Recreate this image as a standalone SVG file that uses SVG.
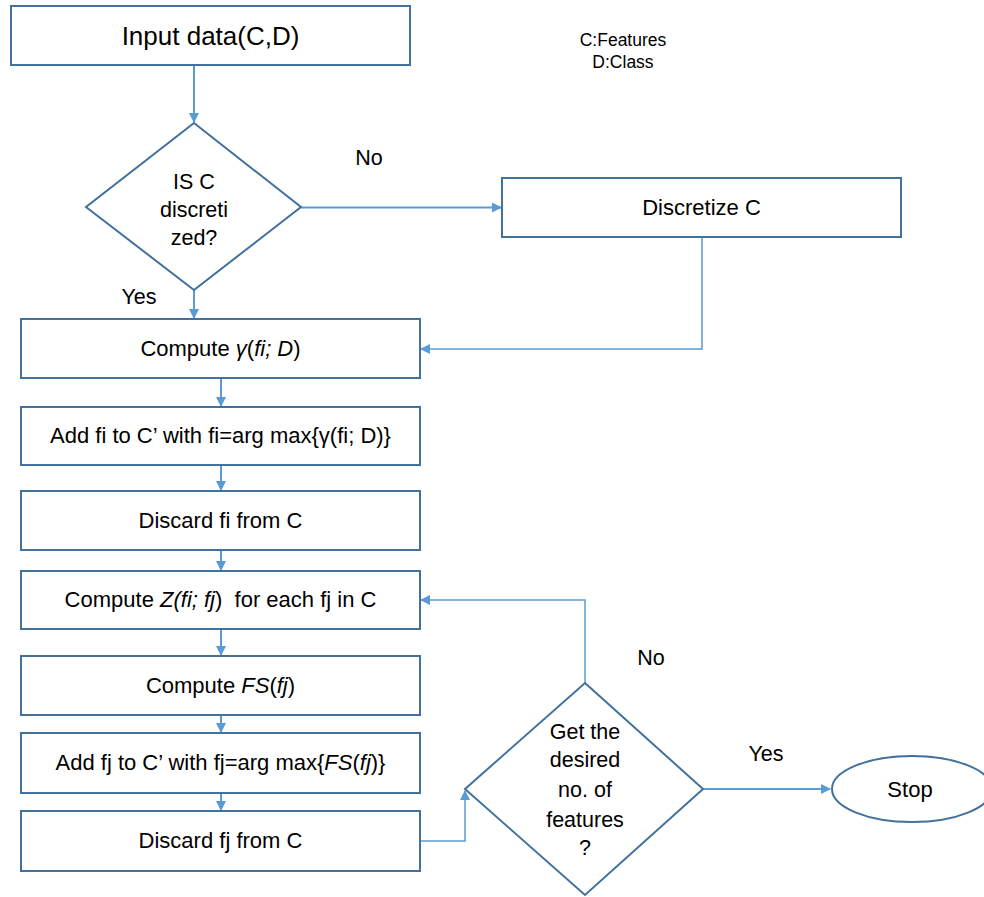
<svg xmlns="http://www.w3.org/2000/svg" width="984" height="897" viewBox="0 0 984 897">
<style>
.box{fill:#fff;stroke:#41719C;stroke-width:2}
.con{fill:none;stroke:#5B9BD5;stroke-width:2}
.thin{fill:none;stroke:#5B9BD5;stroke-width:1.5}
text{font-family:"Liberation Sans",Arial,sans-serif;fill:#000;text-anchor:middle;white-space:pre}
.t{font-size:22px}
.l{font-size:21.5px}
.s{font-size:17.5px}
.i{font-style:italic}
</style>
<defs>
<marker id="ah" markerWidth="10" markerHeight="10" refX="9" refY="5" orient="auto" markerUnits="userSpaceOnUse">
<path d="M0,0 L10,5 L0,10 Z" fill="#5B9BD5"/>
</marker>
</defs>
<rect width="984" height="897" fill="#fff"/>
<g id="connectors">
<line class="con" x1="194" y1="65" x2="194" y2="122" marker-end="url(#ah)"/>
<line class="con" x1="194" y1="290" x2="194" y2="318" marker-end="url(#ah)"/>
<line class="con" x1="301" y1="207.5" x2="501" y2="207.5" marker-end="url(#ah)"/>
<path class="thin" d="M702,237 V349 H421" marker-end="url(#ah)"/>
<line class="con" x1="221" y1="378" x2="221" y2="406" marker-end="url(#ah)"/>
<line class="con" x1="221" y1="465" x2="221" y2="490" marker-end="url(#ah)"/>
<line class="con" x1="221" y1="550" x2="221" y2="570" marker-end="url(#ah)"/>
<line class="con" x1="221" y1="629" x2="221" y2="655" marker-end="url(#ah)"/>
<line class="con" x1="221" y1="715" x2="221" y2="732" marker-end="url(#ah)"/>
<line class="con" x1="221" y1="793" x2="221" y2="810" marker-end="url(#ah)"/>
<path class="thin" d="M420,841 H465 V791" marker-end="url(#ah)"/>
<path class="thin" d="M585,683 V600 H421" marker-end="url(#ah)"/>
<line class="con" x1="703" y1="789" x2="830" y2="789" marker-end="url(#ah)"/>
</g>
<g id="input">
<rect class="box" x="11" y="6" width="399" height="59"/>
<text x="210.5" y="45" font-size="26">Input data(C,D)</text>
</g>
<g id="legend">
<text class="s" x="623" y="46">C:Features</text>
<text class="s" x="623" y="68">D:Class</text>
</g>
<g id="decision1">
<polygon class="box" points="194,123 301,207 194,290 86,207"/>
<text class="l" x="194" y="189">IS C</text>
<text class="l" x="194" y="217">discreti</text>
<text class="l" x="194" y="245">zed?</text>
</g>
<g id="discretize">
<rect class="box" x="502" y="178" width="399" height="59"/>
<text class="t" x="701.5" y="215">Discretize C</text>
</g>
<g id="compute-gamma">
<rect class="box" x="21" y="319" width="399" height="59"/>
<text class="t" x="220.5" y="356">Compute <tspan class="i">γ</tspan>(<tspan class="i">fi; D</tspan>)</text>
</g>
<g id="add-fi">
<rect class="box" x="21" y="407" width="399" height="58"/>
<text class="t" x="220.5" y="443">Add fi to C’ with fi=arg max{γ(fi; D)}</text>
</g>
<g id="discard-fi">
<rect class="box" x="21" y="491" width="399" height="59"/>
<text class="t" x="220.5" y="528">Discard fi from C</text>
</g>
<g id="compute-z">
<rect class="box" x="21" y="571" width="399" height="58"/>
<text class="t" x="220.5" y="607">Compute <tspan class="i">Z(fi; fj</tspan>)  for each fj in C</text>
</g>
<g id="compute-fs">
<rect class="box" x="21" y="656" width="399" height="59"/>
<text class="t" x="220.5" y="693">Compute <tspan class="i">FS</tspan>(<tspan class="i">fj</tspan>)</text>
</g>
<g id="add-fj">
<rect class="box" x="21" y="733" width="399" height="60"/>
<text class="t" x="220.5" y="770">Add fj to C’ with fj=arg max{<tspan class="i">FS</tspan>(<tspan class="i">fj</tspan>)}</text>
</g>
<g id="discard-fj">
<rect class="box" x="21" y="811" width="399" height="60"/>
<text class="t" x="220.5" y="848">Discard fj from C</text>
</g>
<g id="decision2">
<polygon class="box" points="585,683 703,789 585,895 465,789"/>
<text class="l" x="585" y="739">Get the</text>
<text class="l" x="585" y="767">desired</text>
<text class="l" x="585" y="797">no. of</text>
<text class="l" x="585" y="827">features</text>
<text class="l" x="585" y="855">?</text>
</g>
<g id="stop">
<ellipse class="box" cx="912" cy="789" rx="80" ry="33"/>
<text class="t" x="910" y="797">Stop</text>
</g>
<g id="labels">
<text class="l" x="369" y="165">No</text>
<text class="l" x="139" y="304">Yes</text>
<text class="l" x="651" y="665">No</text>
<text class="l" x="766" y="761">Yes</text>
</g>
</svg>
